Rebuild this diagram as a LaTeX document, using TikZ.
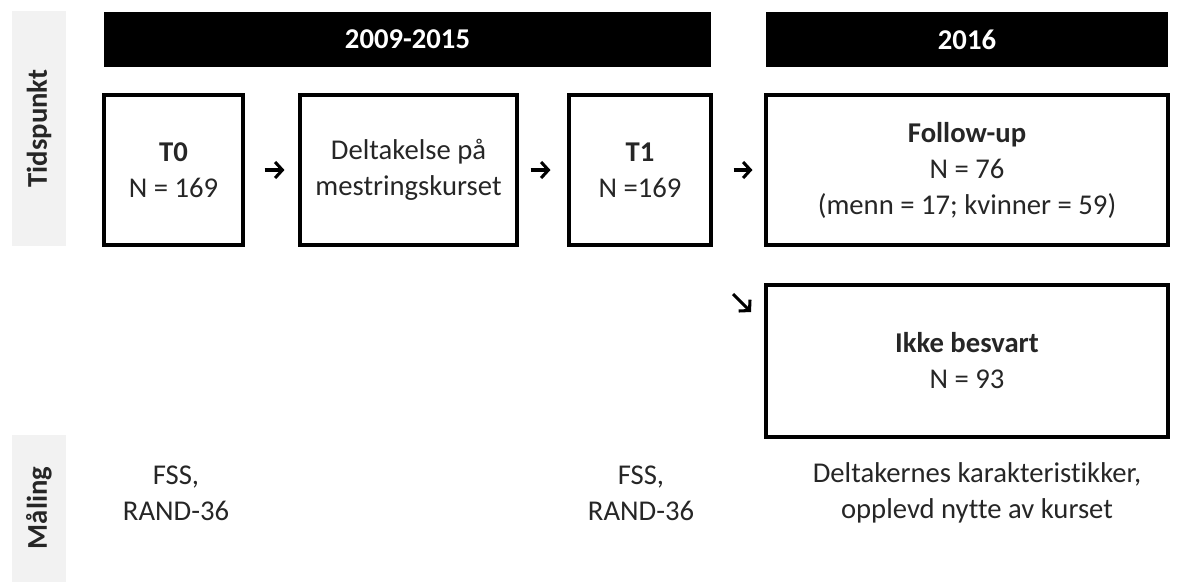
\documentclass[tikz,border=0pt]{standalone}
\usepackage{fontspec}
\setmainfont[Ligatures=NoCommon]{Carlito}
\usetikzlibrary{arrows.meta}
\definecolor{txt}{HTML}{262626}
\definecolor{sidegray}{HTML}{F2F2F2}
\definecolor{sidetxt}{HTML}{262626}
\begin{document}
\begin{tikzpicture}[x=0.75pt,y=-0.75pt,
  every node/.style={font=\fontsize{21.5}{27}\selectfont, text=txt},
  box/.style={draw=black, line width=2.3pt, align=center, inner sep=0pt},
  bar/.style={fill=black, inner sep=0pt, text=white, font=\bfseries\fontsize{21.5}{27}\selectfont},
  side/.style={fill=sidegray, inner sep=0pt},
  sidelabel/.style={rotate=90, text=sidetxt, font=\bfseries\fontsize{21.5}{26}\selectfont},
  meas/.style={align=center, inner sep=0pt},
  arr/.style={line width=2.3pt, -{Straight Barb[length=5.5pt,width=12pt]}}
  ]
\useasboundingbox (0,0) rectangle (1181,583);
% side labels
\node[side, minimum width=54*0.75pt, minimum height=235*0.75pt] (sideA) at (39,128.5) {};
\node[sidelabel] (labA) at (sideA.center) {Tidspunkt};
\node[side, minimum width=54*0.75pt, minimum height=147*0.75pt] (sideB) at (39,508) {};
\node[sidelabel] (labB) at (sideB.center) {Måling};
% bars
\node[bar, minimum width=607*0.75pt, minimum height=55*0.75pt] (bar1) at (407.5,39.5) {2009-2015};
\node[bar, minimum width=402*0.75pt, minimum height=55*0.75pt] (bar2) at (967,39.5) {2016};
% boxes
\node[box, minimum width=139*0.75pt, minimum height=150*0.75pt] (t0) at (173.5,170) {\textbf{T0}\\N = 169};
\node[box, minimum width=217*0.75pt, minimum height=150*0.75pt] (del) at (408.5,170) {Deltakelse på\\mestringskurset};
\node[box, minimum width=142*0.75pt, minimum height=150*0.75pt] (t1) at (640,170) {\textbf{T1}\\N =169};
\node[box, minimum width=402*0.75pt, minimum height=150*0.75pt] (fu) at (967,170) {\textbf{Follow-up}\\N = 76\\(menn = 17; kvinner = 59)};
\node[box, minimum width=402*0.75pt, minimum height=152*0.75pt] (ikke) at (967,361) {\textbf{Ikke besvart}\\N = 93};
% arrows
\draw[arr, shorten <=20*0.75pt, shorten >=14*0.75pt] (t0.east) -- (del.west);
\draw[arr, shorten <=12*0.75pt, shorten >=17*0.75pt] (del.east) -- (t1.west);
\draw[arr, shorten <=21*0.75pt, shorten >=12*0.75pt] (t1.east) -- (fu.west);
\coordinate (d1) at (733,294);
\coordinate (d2) at (751,312);
\draw[arr] (d1) -- (d2);
% measurements
\node[meas] (m0) at (176,493) {FSS,\\RAND-36};
\node[meas] (m1) at (641,493) {FSS,\\RAND-36};
\node[meas] (m2) at (977,493) {Deltakernes karakteristikker,\\opplevd nytte av kurset};
\end{tikzpicture}
\end{document}
